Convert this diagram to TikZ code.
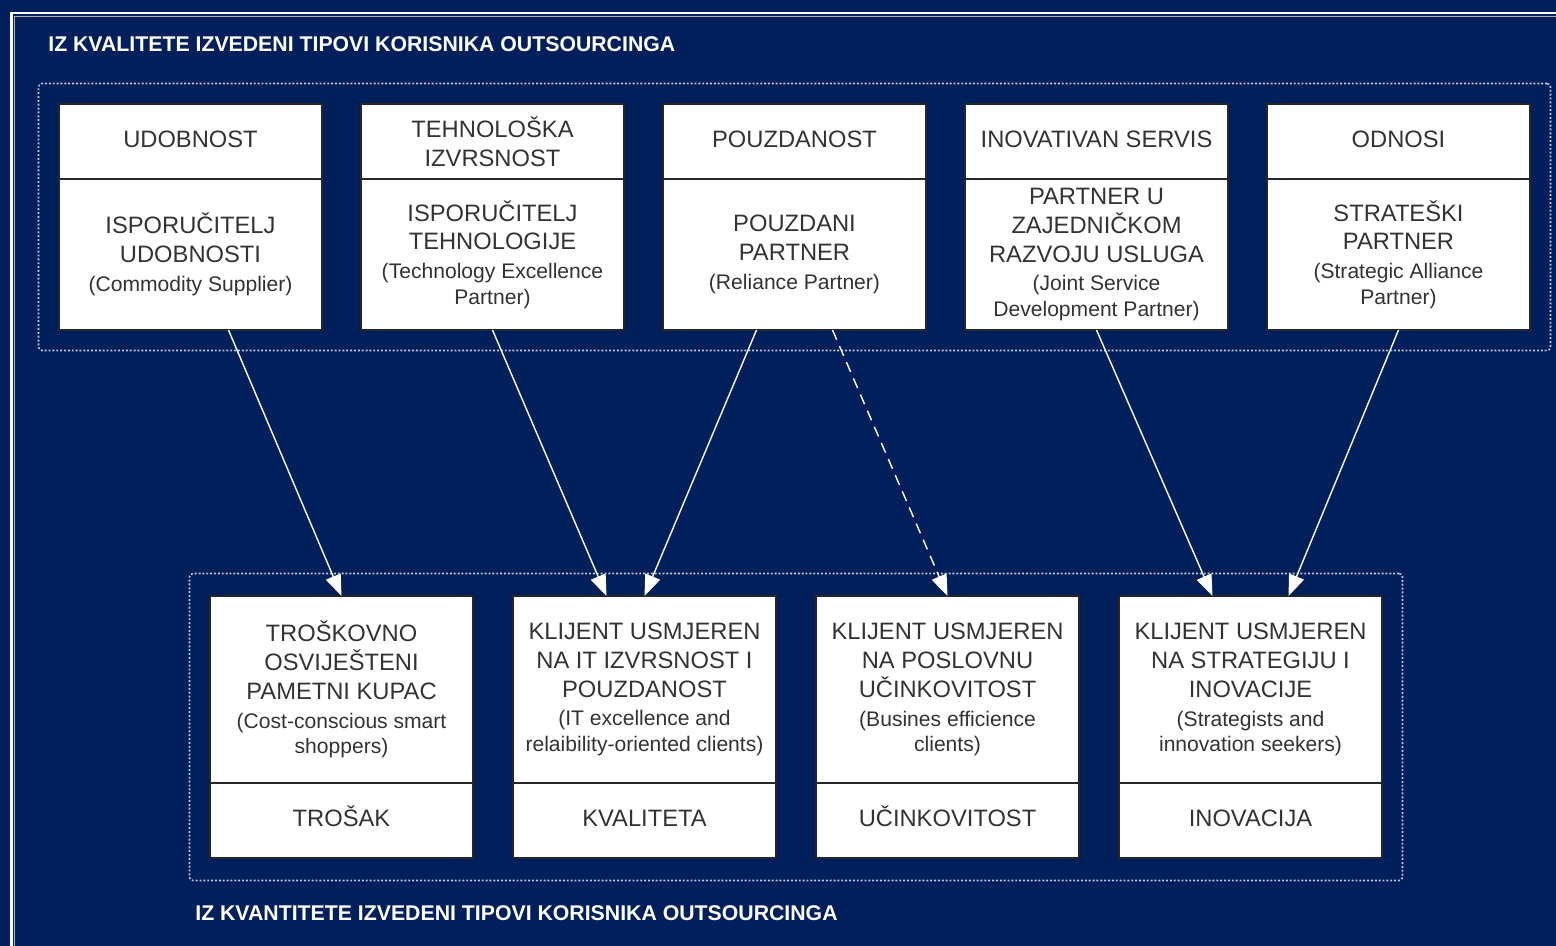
\documentclass[tikz,border=0pt]{standalone}
\usepackage{fontspec}
\setmainfont{Liberation Sans}
\usepackage{tikz}
\usetikzlibrary{positioning, fit, arrows.meta}
\definecolor{bgnavy}{RGB}{0,31,91}
\definecolor{boxtext}{RGB}{51,51,51}
\definecolor{dotline}{RGB}{190,200,222}
\newcommand{\capsize}{\fontsize{13.5}{16.4}\selectfont}
\newcommand{\engsize}{\fontsize{12}{14.5}\selectfont}
\tikzset{headbox/.style={
        draw=black!85,
        line width=0.9pt,
        rectangle,
        fill=white,
        outer sep=0pt,
        inner sep=2pt,
        align=center,
        text=boxtext,
        font=\capsize,
        minimum width=5.26cm,
        minimum height=1.5cm
}}
\tikzset{onelinebox/.style={headbox, text height=10pt, text depth=3pt}}
\tikzset{topbody/.style={headbox, minimum height=3.02cm}}
\tikzset{lowbody/.style={headbox, minimum height=3.74cm}}
\tikzset{groupframe/.style={
        draw=dotline,
        line width=0.9pt,
        dash pattern=on 1.1pt off 1.1pt,
        rounded corners=2pt,
        inner sep=0.41cm
}}
\tikzset{grouptitle/.style={text=white, font=\bfseries\fontsize{12.1}{14}\selectfont, anchor=west, inner sep=0pt}}
\tikzset{typeedge/.style={draw=white, line width=0.8pt, -{Triangle[length=12pt, width=9pt]}}}
\tikzset{weakedge/.style={typeedge, dash pattern=on 6pt off 4pt}}
\begin{document}
\begin{tikzpicture}[node distance=0.78cm]
\useasboundingbox (0,0) rectangle (31.12,-18.92);
\fill[bgnavy] (0,0) rectangle (31.12,-18.92);
\draw[gray!60, line width=0.7pt] (0.29,-18.92) |- (31.12,-0.33);
\draw[white, line width=1.2pt] (0.23,-18.92) |- (31.12,-0.26);

\node[grouptitle] (qualtitle) at (0.96,-0.88) {IZ KVALITETE IZVEDENI TIPOVI KORISNIKA OUTSOURCINGA};

\node[onelinebox, anchor=north west] (t1) at (1.18,-2.08) {UDOBNOST};
\node[headbox, right=of t1] (t2) {TEHNOLOŠKA\\IZVRSNOST};
\node[onelinebox, right=of t2] (t3) {POUZDANOST};
\node[onelinebox, right=of t3] (t4) {INOVATIVAN SERVIS};
\node[onelinebox, right=of t4] (t5) {ODNOSI};

\node[topbody, below=0pt of t1] (tb1) {ISPORUČITELJ\\UDOBNOSTI\\{\engsize (Commodity Supplier)}};
\node[topbody, below=0pt of t2] (tb2) {ISPORUČITELJ\\TEHNOLOGIJE\\{\engsize (Technology Excellence}\\[-1.8pt]{\engsize Partner)}};
\node[topbody, below=0pt of t3] (tb3) {POUZDANI\\PARTNER\\{\engsize (Reliance Partner)}};
\node[topbody, below=0pt of t4] (tb4) {PARTNER U\\ZAJEDNIČKOM\\RAZVOJU USLUGA\\{\engsize (Joint Service}\\[-1.8pt]{\engsize Development Partner)}};
\node[topbody, below=0pt of t5] (tb5) {STRATEŠKI\\PARTNER\\{\engsize (Strategic Alliance}\\[-1.8pt]{\engsize Partner)}};

\node[lowbody, anchor=north west] (b1) at (4.2,-11.92) {TROŠKOVNO\\OSVIJEŠTENI\\PAMETNI KUPAC\\{\engsize (Cost-conscious smart}\\[-1.8pt]{\engsize shoppers)}};
\node[lowbody, right=0.8cm of b1] (b2) {KLIJENT USMJEREN\\NA IT IZVRSNOST I\\POUZDANOST\\{\engsize (IT excellence and}\\[-1.8pt]{\engsize relaibility-oriented clients)}};
\node[lowbody, right=0.8cm of b2] (b3) {KLIJENT USMJEREN\\NA POSLOVNU\\UČINKOVITOST\\{\engsize (Busines efficience}\\[-1.8pt]{\engsize clients)}};
\node[lowbody, right=0.8cm of b3] (b4) {KLIJENT USMJEREN\\NA STRATEGIJU I\\INOVACIJE\\{\engsize (Strategists and}\\[-1.8pt]{\engsize innovation seekers)}};

\node[onelinebox, below=0pt of b1] (bf1) {TROŠAK};
\node[onelinebox, below=0pt of b2] (bf2) {KVALITETA};
\node[onelinebox, below=0pt of b3] (bf3) {UČINKOVITOST};
\node[onelinebox, below=0pt of b4] (bf4) {INOVACIJA};

\node[groupframe, fit=(t1)(tb5)] (qualframe) {};
\node[groupframe, fit=(b1)(bf4), inner ysep=0.45cm] (quantframe) {};

\node[grouptitle] (quanttitle) at (3.9,-18.26) {IZ KVANTITETE IZVEDENI TIPOVI KORISNIKA OUTSOURCINGA};

\draw[typeedge] ([xshift=0.76cm]tb1.south) -- (b1.north);
\draw[typeedge] (tb2.south) -- ([xshift=-0.76cm]b2.north);
\draw[typeedge] ([xshift=-0.76cm]tb3.south) -- (b2.north);
\draw[weakedge] ([xshift=0.76cm]tb3.south) -- (b3.north);
\draw[typeedge] (tb4.south) -- ([xshift=-0.76cm]b4.north);
\draw[typeedge] (tb5.south) -- ([xshift=0.76cm]b4.north);
\end{tikzpicture}
\end{document}
